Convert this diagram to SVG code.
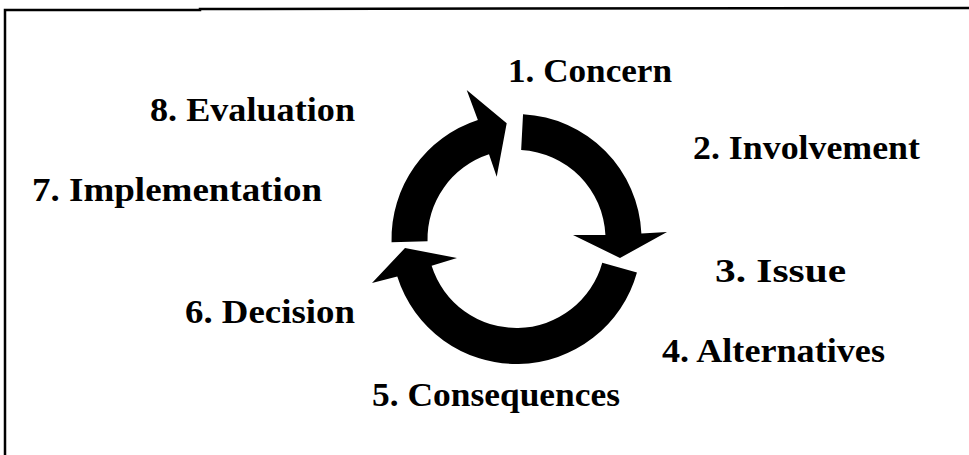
<svg xmlns="http://www.w3.org/2000/svg" width="969" height="455" viewBox="0 0 969 455">
<style>
.lbl{font-family:"Liberation Serif","Times New Roman",serif;font-weight:bold;font-size:33px;fill:#000}
.arr{fill:#000;stroke:none}
.frame{stroke:#000;stroke-width:2.5;fill:none}
</style>
<rect x="0" y="0" width="969" height="455" fill="#fff"/>
<g id="frame">
<path class="frame" d="M5,455 L5,10 L200,10 L200,9 L969,8"/>
</g>
<g id="connectors">
<path class="arr" d="M523.04,114.17 A125,125 0 0 1 641.38,233.55 L667,232 L620,258 L573,235 L605.42,235.12 A89,89 0 0 0 521.16,150.12 Z"/>
<path class="arr" d="M636.95,272.41 A125,125 0 0 1 397.28,276.59 L372,283 L405,248 L457,258 L431.62,265.76 A89,89 0 0 0 602.26,262.78 Z"/>
<path class="arr" d="M391.54,242.27 A125,125 0 0 1 477.87,120.12 L466.7,90 L506.7,123.3 L496.7,176.7 L489,154.36 A89,89 0 0 0 427.53,241.33 Z"/>
</g>
<g id="n1"><text class="lbl" x="508" y="82" textLength="164" lengthAdjust="spacingAndGlyphs">1. Concern</text></g>
<g id="n2"><text class="lbl" x="693" y="159" textLength="227" lengthAdjust="spacingAndGlyphs">2. Involvement</text></g>
<g id="n3"><text class="lbl" x="715" y="282" textLength="131" lengthAdjust="spacingAndGlyphs">3. Issue</text></g>
<g id="n4"><text class="lbl" x="662" y="362" textLength="223" lengthAdjust="spacingAndGlyphs">4. Alternatives</text></g>
<g id="n5"><text class="lbl" x="372" y="406" textLength="248" lengthAdjust="spacingAndGlyphs">5. Consequences</text></g>
<g id="n6"><text class="lbl" x="185" y="323" textLength="170" lengthAdjust="spacingAndGlyphs">6. Decision</text></g>
<g id="n7"><text class="lbl" x="32" y="201" textLength="290" lengthAdjust="spacingAndGlyphs">7. Implementation</text></g>
<g id="n8"><text class="lbl" x="150" y="121" textLength="205" lengthAdjust="spacingAndGlyphs">8. Evaluation</text></g>
</svg>
